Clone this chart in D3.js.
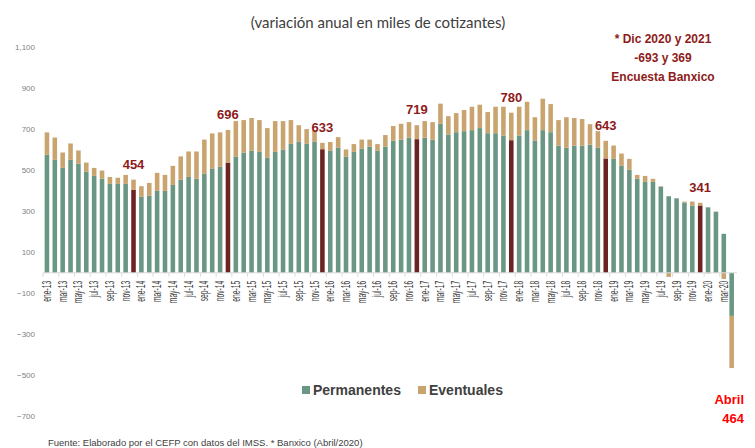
<!DOCTYPE html>
<html>
<head>
<meta charset="utf-8">
<script src="https://cdnjs.cloudflare.com/ajax/libs/d3/7.8.5/d3.min.js"></script>
<style>
    body { margin: 0; background: #fff; }
    svg { display: block; }
</style>
</head>
<body>
<div id="chart"></div>
<script>

// monthly values, ene-13 .. abr-20 (miles de cotizantes)
var years = ['13', '14', '15', '16', '17', '18', '19', '20'];
var month_names = ['ene', 'feb', 'mar', 'abr', 'may', 'jun', 'jul', 'ago', 'sep', 'oct', 'nov', 'dic'];

var permanentes = [
    575, 550, 511, 550, 531, 492, 472, 458, 433, 433, 433, 404,
    370, 375, 399, 399, 428, 453, 467, 458, 482, 506, 516, 537,
    565, 585, 594, 589, 560, 589, 599, 628, 638, 628, 638, 602,
    594, 609, 565, 589, 604, 614, 594, 614, 643, 648, 658, 651,
    658, 648, 726, 674, 685, 690, 695, 705, 680, 680, 669, 646,
    669, 695, 645, 695, 685, 619, 609, 619, 619, 624, 609, 557,
    555, 521, 502, 458, 443, 443, 419, 373, 363, 342, 328, 328,
    319, 298, 190, -210
];

var eventuales = [
    109, 109, 75, 80, 65, 45, 39, 40, 34, 30, 44, 50,
    52, 63, 88, 78, 93, 114, 124, 133, 167, 173, 168, 159,
    174, 159, 160, 155, 145, 150, 140, 116, 81, 72, 57, 31,
    43, 52, 36, 38, 45, 35, 33, 57, 72, 78, 76, 68,
    81, 86, 98, 89, 93, 103, 114, 114, 103, 129, 140, 134,
    140, 138, 113, 153, 137, 125, 149, 135, 130, 100, 81, 86,
    65, 60, 53, 19, 29, 15, 3, -20, 0, 5, 19, 13,
    -3, 0, -30, -254
];

// december totals shown above the dark bars
var dic_labels = [454, 696, 633, 719, 780, 643, 341];

var y_ticks = [1100, 900, 700, 500, 300, 100, -100, -300, -500, -700];

var note_lines = ['* Dic 2020 y 2021', '-693 y 369', 'Encuesta Banxico'];

var width = 755, height = 448;

var color_perm = '#6a9783';
var color_even = '#c9a46f';
var color_dic = '#6b2323';
var color_label = '#8e1b1b';

// build the month keys
var months = [];
for (var i = 0; i < permanentes.length; i++) {
    months.push(month_names[i % 12] + '-' + years[Math.floor(i / 12)]);
}

var rows = months.map(function (m, i) {
    return {month: m, idx: i, permanentes: permanentes[i], eventuales: eventuales[i]};
});

var svg = d3.select('#chart').append('svg')
    .attr('width', width)
    .attr('height', height);

var x = d3.scaleBand()
    .domain(months)
    .range([43, 735.6])
    .paddingInner(0.42)
    .paddingOuter(0.21);

var y = d3.scaleLinear()
    .domain([-700, 1100])
    .range([416.5, 47]);

var series = d3.stack()
    .keys(['permanentes', 'eventuales'])
    .offset(d3.stackOffsetDiverging)(rows);

// title
svg.append('text')
    .attr('x', 378)
    .attr('y', 28)
    .attr('text-anchor', 'middle')
    .style('font-family', 'Lato, "Open Sans", sans-serif')
    .style('font-size', '15px')
    .style('fill', '#404040')
    .text('(variación anual en miles de cotizantes)');

// y labels (no gridlines in the original)
svg.append('g').selectAll('text')
    .data(y_ticks)
    .enter().append('text')
    .attr('x', 35)
    .attr('y', function (d) { return y(d); })
    .attr('dy', '0.35em')
    .attr('text-anchor', 'end')
    .style('font-family', '"Liberation Sans", Arial, sans-serif')
    .style('font-size', '8px')
    .style('fill', '#7f7f7f')
    .text(d3.format(','));

// bars
var layers = svg.append('g').selectAll('g')
    .data(series)
    .enter().append('g');

layers.selectAll('rect')
    .data(function (s) { return s.map(function (d) { d.key = s.key; return d; }); })
    .enter().append('rect')
    .attr('x', function (d) { return x(d.data.month); })
    .attr('width', x.bandwidth())
    .attr('y', function (d) { return y(Math.max(d[0], d[1])); })
    .attr('height', function (d) { return Math.abs(y(d[0]) - y(d[1])); })
    .attr('fill', function (d) {
        if (d.key === 'eventuales') return color_even;
        return d.data.idx % 12 === 11 ? color_dic : color_perm;
    });

// x axis line + ticks every two months
var x0 = y(0);
svg.append('line')
    .attr('x1', 43).attr('x2', 737)
    .attr('y1', x0).attr('y2', x0)
    .style('stroke', '#d9d9d9')
    .style('stroke-width', 1);

var every_other = months.filter(function (m, i) { return i % 2 === 0; });

svg.append('g').selectAll('line')
    .data(every_other)
    .enter().append('line')
    .attr('x1', function (m) { return x(m) - x.step() * x.paddingInner() / 2; })
    .attr('x2', function (m) { return x(m) - x.step() * x.paddingInner() / 2; })
    .attr('y1', x0).attr('y2', x0 + 4)
    .style('stroke', '#d9d9d9');

svg.append('g').selectAll('text')
    .data(every_other)
    .enter().append('text')
    .attr('transform', function (m) {
        return 'translate(' + (x(m) + x.bandwidth() / 2 + 4) + ',' + (x0 + 8) + ') rotate(-90) scale(0.56,1)';
    })
    .attr('text-anchor', 'end')
    .style('font-family', '"Liberation Sans", Arial, sans-serif')
    .style('font-size', '12px')
    .style('fill', '#404040')
    .text(function (m) { return m; });

// december labels
var dic_months = months.filter(function (m, i) { return i % 12 === 11; });

svg.append('g').selectAll('text')
    .data(dic_labels)
    .enter().append('text')
    .attr('x', function (d, i) { return x(dic_months[i]) + x.bandwidth() / 2; })
    .attr('y', function (d) { return y(d) - 11; })
    .attr('text-anchor', 'middle')
    .style('font-family', '"Liberation Sans", Arial, sans-serif')
    .style('font-weight', 'bold')
    .style('font-size', '13px')
    .style('fill', color_label)
    .text(function (d) { return d; });

// banxico note
svg.append('g').selectAll('text')
    .data(note_lines)
    .enter().append('text')
    .attr('x', 663)
    .attr('y', function (d, i) { return 43 + i * 19; })
    .attr('text-anchor', 'middle')
    .style('font-family', '"Liberation Sans", Arial, sans-serif')
    .style('font-weight', 'bold')
    .style('font-size', '12px')
    .style('fill', color_label)
    .text(function (d) { return d; });

// april callout
svg.append('g').selectAll('text')
    .data(['Abril', String(-permanentes[87] - eventuales[87])])
    .enter().append('text')
    .attr('x', 744)
    .attr('y', function (d, i) { return 404 + i * 19; })
    .attr('text-anchor', 'end')
    .style('font-family', '"Liberation Sans", Arial, sans-serif')
    .style('font-weight', 'bold')
    .style('font-size', '13px')
    .style('fill', '#ff0000')
    .text(function (d) { return d; });

// legend
var legend = svg.append('g').selectAll('g')
    .data([['Permanentes', color_perm, 302], ['Eventuales', color_even, 418]])
    .enter().append('g')
    .attr('transform', function (d) { return 'translate(' + d[2] + ',386)'; });

legend.append('rect')
    .attr('width', 8).attr('height', 8)
    .attr('fill', function (d) { return d[1]; });

legend.append('text')
    .attr('x', 11).attr('y', 9)
    .style('font-family', '"Liberation Sans", Arial, sans-serif')
    .style('font-weight', 'bold')
    .style('font-size', '14px')
    .style('fill', '#404040')
    .text(function (d) { return d[0]; });

// source
svg.append('text')
    .attr('x', 48)
    .attr('y', 446)
    .style('font-family', '"Liberation Sans", Arial, sans-serif')
    .style('font-size', '9.5px')
    .style('fill', '#404040')
    .text('Fuente: Elaborado por el CEFP con datos del IMSS. * Banxico (Abril/2020)');

</script>
</body>
</html>
